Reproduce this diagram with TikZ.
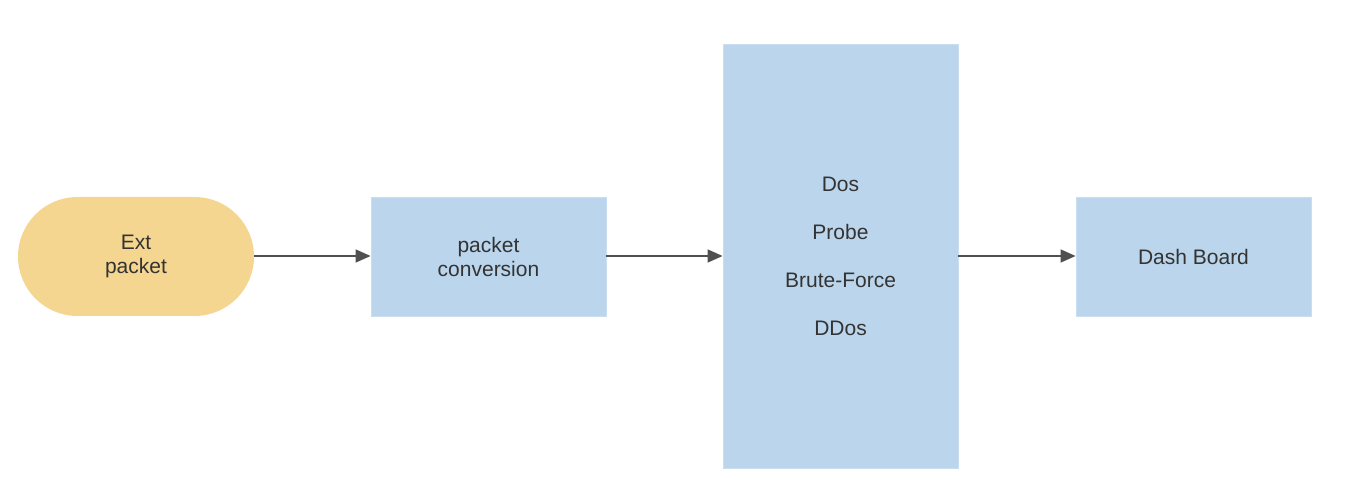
\documentclass[tikz,border=0pt]{standalone}
\usepackage{fontspec}
\setmainfont{Liberation Sans}
\usetikzlibrary{arrows.meta}
\definecolor{boxblue}{HTML}{BBD6EC}
\definecolor{boxedge}{HTML}{C9DEF0}
\definecolor{pillyellow}{HTML}{F5D691}
\definecolor{txt}{HTML}{333333}
\definecolor{arr}{HTML}{505050}
\tikzset{
  base/.style={inner sep=0pt, align=center, text=txt, font=\fontsize{21}{24}\selectfont},
  bluebox/.style={base, rectangle, fill=boxblue, draw=boxedge, line width=0.8pt, minimum width=235pt},
  pill/.style={base, rectangle, fill=pillyellow, rounded corners=59.5pt, minimum width=236pt, minimum height=119pt},
  flow/.style={draw=arr, line width=1.5pt, -{Triangle[length=15pt,width=13pt]}}
}
\begin{document}
\begin{tikzpicture}[x=1pt,y=-1pt]
\useasboundingbox (0,0) rectangle (1360,494);
\node[pill] (ext) at (136,256.5) {Ext\\packet};
\node[bluebox, minimum height=119pt] (conv) at (488.5,256.5) {packet\\conversion};
\node[bluebox, minimum height=424pt] (det) at (840.5,256) {Dos\\[24pt]Probe\\[24pt]Brute-Force\\[24pt]DDos};
\node[bluebox, minimum height=119pt] (dash) at (1193.5,256.5) {Dash Board};
\draw[flow] (ext.east |- 0,256) -- (conv.west |- 0,256);
\draw[flow] (conv.east |- 0,256) -- (det.west |- 0,256);
\draw[flow] (det.east |- 0,256) -- (dash.west |- 0,256);
\end{tikzpicture}
\end{document}
